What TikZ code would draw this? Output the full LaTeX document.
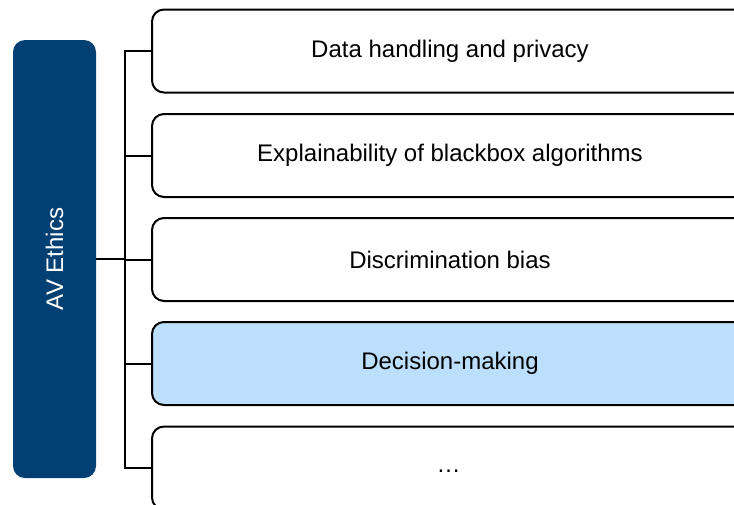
\documentclass[tikz,border=0pt]{standalone}
\usepackage{fontspec}
\setmainfont{Liberation Sans}
\definecolor{avblue}{RGB}{2,63,115}
\definecolor{hlblue}{RGB}{187,223,252}
\begin{document}
\begin{tikzpicture}[x=1pt,y=-1pt,
  item/.style={draw=black,line width=2pt,rounded corners=12pt,fill=white,
    minimum width=596pt,minimum height=83pt,anchor=west,inner sep=0pt,
    font=\fontsize{24}{28}\selectfont},
  conn/.style={draw=black,line width=2pt}]
\clip (0,0) rectangle (734,504);
\node[fill=avblue,rounded corners=12pt,minimum width=83pt,minimum height=438pt,inner sep=0pt]
  (av) at (54.5,259) {};
\node[rotate=90,text=white,font=\fontsize{24}{28}\selectfont] (avt) at (av.center) {AV Ethics};
\node[item] (b1) at (151,51) {Data handling and privacy};
\node[item] (b2) at (151,155.5) {Explainability of blackbox algorithms};
\node[item] (b3) at (151,259.5) {Discrimination bias};
\node[item,fill=hlblue] (b4) at (151,363.5) {Decision-making};
\node[item] (b5) at (151,468) {};
\node[font=\fontsize{24}{28}\selectfont] (dots) at (448.5,471) {…};
\coordinate (bus) at (124.5,259);
\draw[conn] (av.east) -- (av.east -| bus);
\draw[conn,line cap=rect] (bus |- b1.west) -- (bus |- b5.west);
\foreach \b in {b1,b2,b3,b4,b5}{
  \draw[conn] (bus |- \b.west) -- (\b.west);
}
\end{tikzpicture}
\end{document}
